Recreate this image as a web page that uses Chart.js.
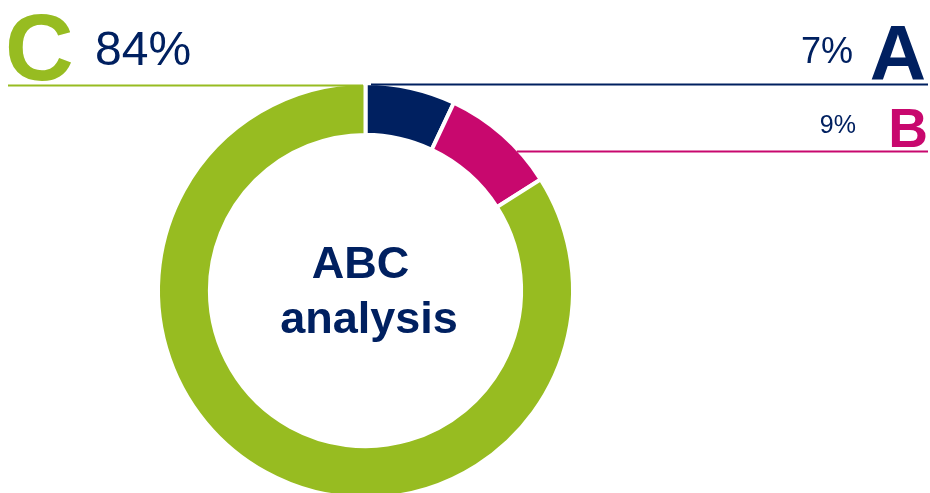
<!DOCTYPE html>
<html>
<head>
<meta charset="utf-8">
<script src="https://cdn.jsdelivr.net/npm/chart.js@4/dist/chart.umd.min.js"></script>
<style>
  html, body { margin: 0; padding: 0; background: #fff; overflow: hidden; width: 930px; height: 493px; }
  #wrap { position: relative; width: 930px; height: 520px; }
</style>
</head>
<body>
<div id="wrap"><canvas id="c"></canvas></div>
<script>
// ---- data ----
const categories = ['A', 'B', 'C'];
const shares = [7, 9, 84];
const shareLabels = ['7%', '9%', '84%'];
const centerLines = ['ABC', 'analysis'];
const segmentColors = ['#002060', '#C8086E', '#97BC21'];

const NAVY = '#002060';
const FONT = '"Liberation Sans", Arial, Helvetica, sans-serif';

const labelPlugin = {
  id: 'abcLabels',
  afterDraw(chart) {
    const ctx = chart.ctx;
    const arcs = chart.getDatasetMeta(0).data;
    const cx = arcs[0].x, cy = arcs[0].y;
    const R = arcs[0].outerRadius - 2; // visible outer edge (border covers 2px)
    ctx.save();

    // leader lines
    ctx.lineWidth = 2;
    const yTop = 85.5;
    // C (left, at top of ring)
    ctx.strokeStyle = segmentColors[2];
    ctx.beginPath(); ctx.moveTo(8, yTop); ctx.lineTo(cx - 2.5, yTop); ctx.stroke();
    // A (right, at top of ring)
    ctx.strokeStyle = segmentColors[0];
    ctx.beginPath(); ctx.moveTo(cx + 5.5, yTop - 1); ctx.lineTo(928, yTop - 1); ctx.stroke();
    // B (from outer edge of ring)
    const yB = 151.5;
    const xB = cx + Math.sqrt(R * R - (yB - cy) * (yB - cy));
    ctx.strokeStyle = segmentColors[1];
    ctx.beginPath(); ctx.moveTo(xB, yB); ctx.lineTo(928, yB); ctx.stroke();

    ctx.textBaseline = 'alphabetic';
    // C label
    ctx.textAlign = 'left';
    ctx.fillStyle = segmentColors[2];
    ctx.font = 'bold 95px ' + FONT;
    ctx.fillText(categories[2], 5, 80);
    ctx.fillStyle = NAVY;
    ctx.font = '48px ' + FONT;
    ctx.fillText(shareLabels[2], 95, 65);

    // A label
    ctx.textAlign = 'right';
    ctx.fillStyle = segmentColors[0];
    ctx.font = 'bold 78px ' + FONT;
    ctx.fillText(categories[0], 926, 80);
    ctx.fillStyle = NAVY;
    ctx.font = '36px ' + FONT;
    ctx.fillText(shareLabels[0], 853, 63);

    // B label
    ctx.fillStyle = segmentColors[1];
    ctx.font = 'bold 55px ' + FONT;
    ctx.fillText(categories[1], 928, 147);
    ctx.fillStyle = NAVY;
    ctx.font = '25px ' + FONT;
    ctx.fillText(shareLabels[1], 856, 133);

    // center text
    ctx.textAlign = 'center';
    ctx.fillStyle = NAVY;
    ctx.font = 'bold 45px ' + FONT;
    ctx.fillText(centerLines[0], cx - 5, 278);
    ctx.fillText(centerLines[1], cx + 3.5, 333);

    ctx.restore();
  }
};

new Chart(document.getElementById('c'), {
  type: 'doughnut',
  data: {
    labels: categories,
    datasets: [{
      data: shares,
      backgroundColor: segmentColors,
      borderColor: '#ffffff',
      borderWidth: 4,
      hoverOffset: 0
    }]
  },
  options: {
    responsive: true,
    maintainAspectRatio: false,
    animation: false,
    cutout: '75%',
    layout: { padding: { left: 156, right: 355, top: 81, bottom: 20 } },
    plugins: { legend: { display: false }, tooltip: { enabled: false } },
    events: []
  },
  plugins: [labelPlugin]
});
</script>
</body>
</html>
